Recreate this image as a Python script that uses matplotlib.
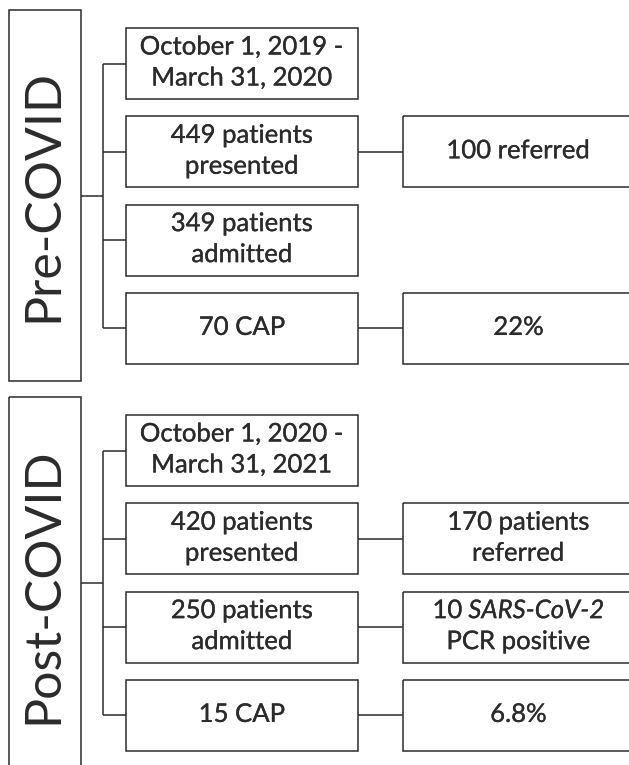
import matplotlib
matplotlib.use("Agg")
import matplotlib.pyplot as plt
from matplotlib.patches import Rectangle
import matplotlib.patheffects as pe

# === chart content ===
groups = ["Pre-COVID", "Post-COVID"]
pre_steps = ["October 1, 2019 -\nMarch 31, 2020",
             "449 patients\npresented",
             "349 patients\nadmitted",
             "70 CAP"]
pre_outcomes = [None, "100 referred", None, "22%"]
post_steps = ["October 1, 2020 -\nMarch 31, 2021",
              "420 patients\npresented",
              "250 patients\nadmitted",
              "15 CAP"]
# text between * * is set in italics
post_outcomes = [None, "170 patients\nreferred", "10 *SARS-CoV-2*\nPCR positive", "6.8%"]

steps = [pre_steps, post_steps]
outcomes = [pre_outcomes, post_outcomes]

# === layout (pixels) ===
W, H = 629, 765
INK = "#2b2b2b"
FONT = "Lato"
LW = 1.1
group_x = (9, 81)
group_top = [10, 397]
group_bottom = [381, 790]
trunk_x = 103
mid_x = (126, 358)
right_x = (403, 634)
row_off, row_pitch, row_h = 18, 88.3, 71
line_pitch = 31
small_fs = 18.5
big_fs = 36
# a thin stroke makes Lato a little closer to the heavier original face
thick = [pe.withStroke(linewidth=0.2, foreground=INK)]

fig = plt.figure(figsize=(W / 100, H / 100), dpi=100)
ax = fig.add_axes([0, 0, 1, 1])
ax.set_xlim(0, W)
ax.set_ylim(H, 0)
ax.axis("off")
renderer = fig.canvas.get_renderer()


def box(x0, x1, y0, y1):
    ax.add_patch(Rectangle((x0, y0), x1 - x0, y1 - y0, fill=False,
                           edgecolor=INK, lw=LW))


def line(xs, ys):
    ax.plot(xs, ys, color=INK, lw=LW, solid_capstyle="butt")


def label(xc, yc, txt):
    rows = txt.split("\n")
    n = len(rows)
    for i, r in enumerate(rows):
        yb = yc + 6.5 - line_pitch * (n - 1) / 2 + i * line_pitch
        parts = r.split("*")
        if len(parts) == 1:
            ax.text(xc, yb, r, ha="center", va="baseline", fontsize=small_fs,
                    family=FONT, color=INK, path_effects=thick)
            continue
        objs = []
        for k, p in enumerate(parts):
            p = p.strip()
            if not p:
                continue
            objs.append(ax.text(0, yb, p, ha="left", va="baseline",
                                fontsize=small_fs, family=FONT, color=INK,
                                style="italic" if k % 2 else "normal",
                                path_effects=thick))
        gap = 6
        widths = [o.get_window_extent(renderer).width for o in objs]
        x = xc - (sum(widths) + gap * (len(objs) - 1)) / 2
        for o, w in zip(objs, widths):
            o.set_x(x)
            x += w + gap


for g, name in enumerate(groups):
    top = group_top[g]
    box(group_x[0], group_x[1], top, group_bottom[g])
    centers = [top + row_off + i * row_pitch + row_h / 2 for i in range(len(steps[g]))]
    jy = (centers[0] + centers[-1]) / 2
    ax.text((group_x[0] + group_x[1]) / 2 - 2, jy + 3 * g, name, rotation=90,
            ha="center", va="center", fontsize=big_fs, family=FONT, color=INK)
    line([group_x[1], trunk_x], [jy, jy])
    line([trunk_x, trunk_x], [centers[0], centers[-1]])
    for i, yc in enumerate(centers):
        y0, y1 = yc - row_h / 2, yc + row_h / 2
        line([trunk_x, mid_x[0]], [yc, yc])
        box(mid_x[0], mid_x[1], y0, y1)
        label((mid_x[0] + mid_x[1]) / 2, yc, steps[g][i])
        if outcomes[g][i]:
            line([mid_x[1], right_x[0]], [yc, yc])
            box(right_x[0], right_x[1], y0, y1)
            label((right_x[0] + right_x[1]) / 2, yc, outcomes[g][i])

fig.savefig("out.png", dpi=100)
